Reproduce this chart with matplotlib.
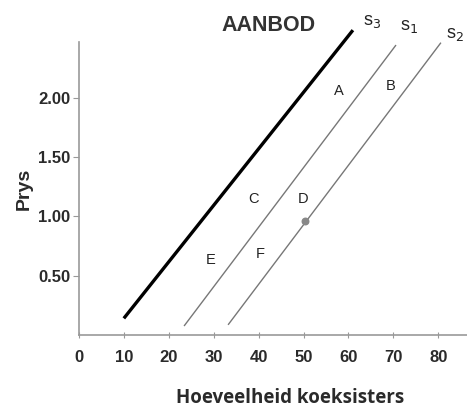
import matplotlib
matplotlib.use("Agg")
import matplotlib.pyplot as plt

# supply curves (quantity, price) endpoints
s3_q = [10, 61]
s3_p = [0.14, 2.57]
s1_q = [23.5, 70.5]
s1_p = [0.08, 2.44]
s2_q = [33.3, 80.5]
s2_p = [0.09, 2.46]

point_q = [50.3]
point_p = [0.96]

area_labels = ["A", "B", "C", "D", "E", "F"]
area_q = [57.8, 69.3, 38.9, 50.0, 29.3, 40.4]
area_p = [2.06, 2.10, 1.15, 1.15, 0.63, 0.68]

curve_names = ["s$_3$", "s$_1$", "s$_2$"]
curve_q = [65.3, 73.5, 83.7]
curve_p = [2.64, 2.60, 2.53]

x_ticks = [0, 10, 20, 30, 40, 50, 60, 70, 80]
y_ticks = [0.50, 1.00, 1.50, 2.00]

fig = plt.figure(figsize=(4.67, 4.12), dpi=100)
ax = fig.add_axes([0.169, 0.187, 0.831, 0.711])
ax.set_xlim(0, 86.4)
ax.set_ylim(0, 2.47)

ax.plot(s3_q, s3_p, color="black", linewidth=2.4, clip_on=False,
        solid_capstyle="butt")
ax.plot(s1_q, s1_p, color="#777777", linewidth=1.0, clip_on=False)
ax.plot(s2_q, s2_p, color="#777777", linewidth=1.0, clip_on=False)
ax.scatter(point_q, point_p, s=22, color="#888888", zorder=5, clip_on=False)

for lab, q, p in zip(area_labels, area_q, area_p):
    ax.text(q, p, lab, ha="center", va="center", fontsize=10.5,
            family="Liberation Sans", color="#222222")
for lab, q, p in zip(curve_names, curve_q, curve_p):
    ax.text(q, p, lab, ha="center", va="center", fontsize=13,
            family="Liberation Sans", color="#222222", clip_on=False)

ax.text(42.2, 2.61, "AANBOD", ha="center", va="center", fontsize=15.5,
        fontweight="bold", family="Liberation Sans", color="#333333")

for side in ("top", "right"):
    ax.spines[side].set_visible(False)
for side in ("left", "bottom"):
    ax.spines[side].set_color("#999999")
    ax.spines[side].set_linewidth(1.2)

ax.set_xticks(x_ticks)
ax.set_xticklabels([str(v) for v in x_ticks])
ax.set_yticks(y_ticks)
ax.set_yticklabels([f"{v:.2f}" for v in y_ticks])
ax.tick_params(axis="x", direction="inout", length=5, color="#999999",
               pad=8)
ax.tick_params(axis="y", direction="out", length=4, color="#999999", pad=2)
for t in ax.get_xticklabels() + ax.get_yticklabels():
    t.set_fontsize(12)
    t.set_fontweight("bold")
    t.set_family("Liberation Sans")
    t.set_color("#2a2a2a")

fig.text(290 / 467, 1 - 398 / 412, "Hoeveelheid koeksisters", ha="center",
         va="center", fontsize=13.5, fontweight="bold", family="Open Sans",
         color="#2a2a2a")
ax.set_ylabel("Prys", fontsize=14, fontweight="bold", family="Liberation Sans",
              color="#2a2a2a", labelpad=4)

fig.savefig("out.png", dpi=100)
